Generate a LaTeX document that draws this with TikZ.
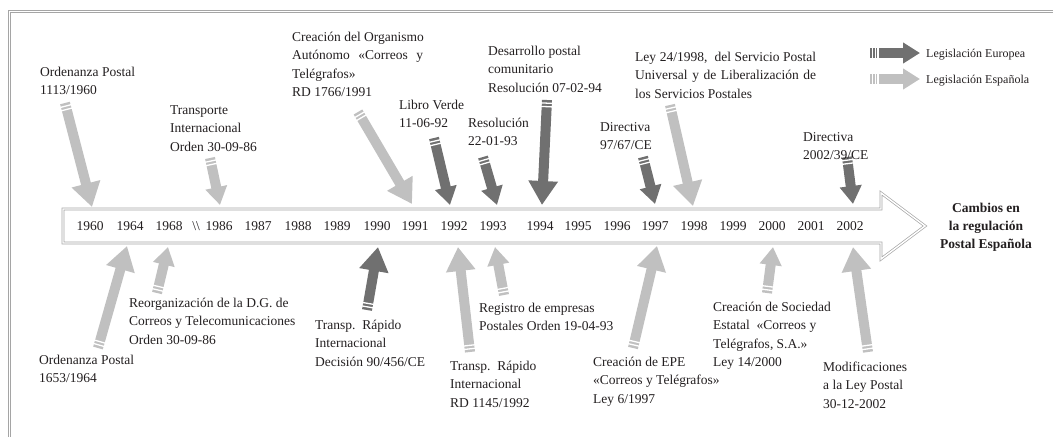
\documentclass[tikz,border=0pt]{standalone}
\usepackage{fontspec}
\setmainfont{Liberation Serif}
\usetikzlibrary{arrows.meta,calc}

\definecolor{eurogray}{RGB}{112,112,112}
\definecolor{espgray}{RGB}{192,192,192}
\definecolor{txtgray}{RGB}{35,31,32}
\definecolor{linegray}{RGB}{165,165,165}

\tikzset{
  lbl/.style={anchor=base west, inner sep=0pt, align=left, text=txtgray,
    font=\fontsize{13.5}{18.3}\selectfont},
  yr/.style={anchor=base, inner sep=0pt, text=txtgray, font=\fontsize{13.5}{16}\selectfont},
  bigarr/.style={line width=10pt, -{Triangle[length=24pt,width=28pt]}},
  smallarr/.style={line width=10pt, -{Triangle[length=18pt,width=21pt]}},
  legarr/.style={line width=10pt, -{Triangle[length=17pt,width=20pt]}},
  eur/.style={color=eurogray},
  esp/.style={color=espgray},
}

\begin{document}
\begin{tikzpicture}[x=1pt,y=-1pt]
  \useasboundingbox (0,0) rectangle (1053,437);

  %frame
  \draw[linegray, line width=0.8pt, double=white, double distance=1.6pt]
    (9.5,437) -- (9.5,11.5) -- (1053,11.5);

  %timeline
  \draw[linegray, line width=0.7pt, double=white, double distance=1.4pt, line join=miter]
    (63,209) -- (881,209) -- (881,193) -- (925,226) -- (881,259) -- (881,243) -- (63,243) -- cycle;

  \foreach \x/\yr in {90/1960,130/1964,169/1968,219/1986,258/1987,298/1988,337/1989,
      377/1990,415/1991,454/1992,493/1993,540/1994,578/1995,617/1996,655/1997,
      694/1998,733/1999,772/2000,811/2001,850/2002}{
    \node[yr] (y\yr) at (\x,230.5) {\yr};
  }
  \node[yr] (ycut) at (196,230.5) {\textbackslash\textbackslash};

  \node[anchor=base, align=center, inner sep=0pt, text=txtgray,
    font=\bfseries\fontsize{13.5}{18}\selectfont] (titulo) at (986,248)
    {Cambios en\\la regulación\\Postal Española};

  %arrows: name/tail/tip/colour/size
  \foreach \n/\tx/\ty/\hx/\hy/\c/\s in {
      a/65/103/92/207/esp/bigarr, b/210/158/220/205/esp/smallarr,
      c/358/112/412/204/esp/bigarr, d/434/138/450/205/eur/smallarr,
      e/483/157/497/205/eur/smallarr, f/547/100/542/205/eur/bigarr,
      g/643/157/655/204/eur/smallarr, h/670/105/693/206/esp/bigarr,
      i/847/157/853/204/eur/smallarr,
      j/98/348/127/246/esp/bigarr, k/157/293/168/247/esp/smallarr,
      l/367/310/378/247/eur/bigarr, m/470/352/458/247/esp/bigarr,
      n/504/295/495/247/esp/smallarr, o/633/348/657/246/esp/bigarr,
      p/767/293/773/247/esp/smallarr, q/868/352/853/247/esp/bigarr}{
    \coordinate (\n t) at (\tx,\ty);
    \coordinate (\n h) at (\hx,\hy);
    \draw[\s,\c] (\n t) -- (\n h);
    \draw[white, line width=16pt] ($(\n t)!2.5pt!(\n h)$) -- ($(\n t)!3.8pt!(\n h)$);
    \draw[white, line width=16pt] ($(\n t)!6pt!(\n h)$) -- ($(\n t)!7.3pt!(\n h)$);
  }

  %labels above (anchored at the last baseline)
  \node[lbl] (t1960) at (40,94.8) {Ordenanza Postal\\1113/1960};
  \node[lbl] (t1986) at (170,151.1) {Transporte\\Internacional\\Orden 30-09-86};
  \node[lbl] (t1991) at (292,96.4) {Creación del Organismo\\\makebox[131pt][s]{Autónomo «Correos y}\\Telégrafos»\\RD 1766/1991};
  \node[lbl] (t1992) at (399,127.8) {Libro Verde\\11-06-92};
  \node[lbl] (t1993) at (468,145.8) {Resolución\\22-01-93};
  \node[lbl] (t1994) at (488,92.1) {Desarrollo postal\\comunitario\\Resolución 07-02-94};
  \node[lbl] (t1997) at (600,149.8) {Directiva\\97/67/CE};
  \node[lbl] (t1998) at (635,98.1) {\makebox[181pt][s]{Ley 24/1998,\ \ del Servicio Postal}\\\makebox[181pt][s]{Universal y de Liberalización de}\\los Servicios Postales};
  \node[lbl] (t2002) at (803,159.8) {Directiva\\2002/39/CE};

  %labels below
  \node[lbl] (b1964) at (39,382.8) {Ordenanza Postal\\1653/1964};
  \node[lbl] (b1968) at (129,344.1) {Reorganización de la D.G. de\\Correos y Telecomunicaciones\\Orden 30-09-86};
  \node[lbl] (b1990) at (315,366.1) {Transp.\ \ Rápido\\Internacional\\Decisión 90/456/CE};
  \node[lbl] (b1992) at (450,407.1) {Transp.\ \ Rápido\\Internacional\\RD 1145/1992};
  \node[lbl] (b1993) at (479,330.8) {Registro de empresas\\Postales Orden 19-04-93};
  \node[lbl] (b1997) at (593,403.1) {Creación de EPE\\«Correos y Telégrafos»\\Ley 6/1997};
  \node[lbl] (b2000) at (713,366.4) {Creación de Sociedad\\Estatal\ \ «Correos y\\Telégrafos, S.A.»\\Ley 14/2000};
  \node[lbl] (b2002) at (823,408.1) {Modificaciones\\a la Ley Postal\\30-12-2002};

  %legend
  \node[lbl, font=\fontsize{12}{14}\selectfont] (legeur) at (926,57.5) {Legislación Europea};
  \node[lbl, font=\fontsize{12}{14}\selectfont] (legesp) at (926,83.5) {Legislación Española};
  \foreach \n/\yy/\c in {le/53/eur, ls/79/esp}{
    \coordinate (\n t) at (870,\yy);
    \coordinate (\n h) at (920,\yy);
    \draw[legarr,\c] (\n t) -- (\n h);
    \foreach \d in {2,4.7,7.4}
      \draw[white, line width=14pt] ($(\n t)!\d pt!(\n h)$) -- ($(\n t)!\d pt+1.2pt!(\n h)$);
  }
\end{tikzpicture}
\end{document}
